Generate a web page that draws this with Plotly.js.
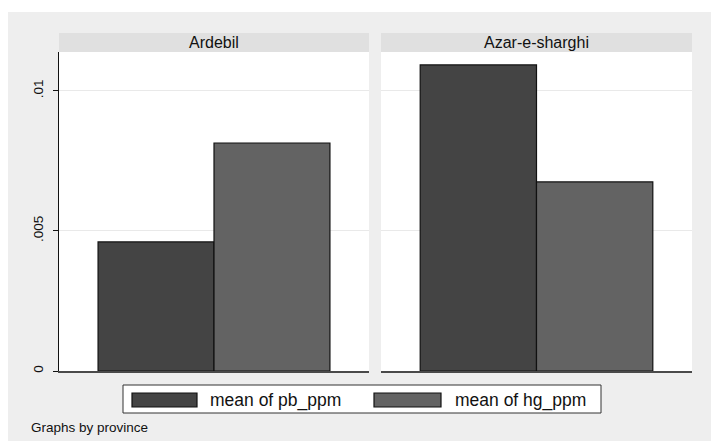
<!DOCTYPE html>
<html>
<head>
<meta charset="utf-8">
<script src="https://cdn.plot.ly/plotly-3.0.1.min.js"></script>
<style>html,body{margin:0;padding:0;background:#fff;}#chart{width:711px;height:441px;}</style>
</head>
<body>
<div id="chart"></div>
<script>
// ---- data ----
const provinces = ['Ardebil', 'Azar-e-sharghi'];
const seriesNames = ['mean of pb_ppm', 'mean of hg_ppm'];
const pbMean = [0.00461, 0.01093];
const hgMean = [0.00814, 0.00675];
const yTickVals = [0, 0.005, 0.01];
const yTickText = ['0', '.005', '.01'];
const footnote = 'Graphs by province';

// ---- style ----
const FONT = 'Liberation Sans, Arial, Helvetica, sans-serif';
const seriesValues = [pbMean, hgMean];
const seriesColors = ['#444444', '#636363'];
const W = 711, H = 441;
const M = {l: 59, r: 19, t: 52, b: 70};
const PW = W - M.l - M.r, PH = H - M.t - M.b;
const px = v => (v - M.l) / PW;          // pixel x -> paper x
const py = v => (H - M.b - v) / PH;      // pixel y -> paper y
const domains = [[0, px(369)], [px(381), 1]];

const traces = [];
provinces.forEach((prov, i) => {
  seriesNames.forEach((name, s) => {
    traces.push({
      type: 'bar',
      name: name,
      x: [prov],
      y: [seriesValues[s][i]],
      xaxis: i === 0 ? 'x' : 'x2',
      yaxis: 'y',
      offsetgroup: String(s),
      marker: {color: seriesColors[s], line: {color: '#111111', width: 1.2}},
      showlegend: false,
      hoverinfo: 'skip'
    });
  });
});

const shapes = [
  // outer grey graph region
  {type: 'rect', xref: 'paper', yref: 'paper', layer: 'below',
   x0: px(8), x1: px(711), y0: py(441), y1: py(12),
   fillcolor: '#eeeeee', line: {width: 0}},
];
domains.forEach(d => {
  shapes.push({type: 'rect', xref: 'paper', yref: 'paper', layer: 'below',
    x0: d[0], x1: d[1], y0: 0, y1: 1, fillcolor: '#ffffff', line: {width: 0}});
  shapes.push({type: 'rect', xref: 'paper', yref: 'paper', layer: 'below',
    x0: d[0], x1: d[1], y0: 1, y1: py(33), fillcolor: '#e0e0e0', line: {width: 0}});
});
// custom legend box and swatches
shapes.push({type: 'rect', xref: 'paper', yref: 'paper',
  x0: px(123), x1: px(601), y0: py(413), y1: py(385),
  fillcolor: '#ffffff', line: {color: '#333333', width: 1}});
const swatchX = [[132, 197], [374, 441]];
const textX = [208, 453];
seriesNames.forEach((n, s) => {
  shapes.push({type: 'rect', xref: 'paper', yref: 'paper',
    x0: px(swatchX[s][0]), x1: px(swatchX[s][1]), y0: py(407), y1: py(393),
    fillcolor: seriesColors[s], line: {color: '#111111', width: 1.2}});
});

const annotations = [];
provinces.forEach((prov, i) => {
  annotations.push({text: prov, xref: 'paper', yref: 'paper',
    x: (domains[i][0] + domains[i][1]) / 2, y: (1 + py(33)) / 2,
    xanchor: 'center', yanchor: 'middle', showarrow: false,
    font: {family: FONT, size: 16, color: '#111111'}});
});
seriesNames.forEach((n, s) => {
  annotations.push({text: n, xref: 'paper', yref: 'paper',
    x: px(textX[s]), y: py(400), xanchor: 'left', yanchor: 'middle',
    showarrow: false, font: {family: FONT, size: 17.5, color: '#111111'}});
});
annotations.push({text: footnote, xref: 'paper', yref: 'paper',
  x: px(29), y: py(427), xanchor: 'left', yanchor: 'middle', showarrow: false,
  font: {family: FONT, size: 13.5, color: '#111111'}});

const xCommon = {
  type: 'category', showticklabels: false, ticks: '', showgrid: false,
  zeroline: false, showline: true, linecolor: '#4a4a4a', linewidth: 1.5,
  anchor: 'y', fixedrange: true
};

const layout = {
  width: W, height: H,
  margin: {l: M.l, r: M.r, t: M.t, b: M.b, pad: 0},
  paper_bgcolor: '#ffffff',
  plot_bgcolor: 'rgba(0,0,0,0)',
  font: {family: FONT, color: '#111111'},
  barmode: 'group',
  bargap: 0.252,
  bargroupgap: 0,
  showlegend: false,
  xaxis: Object.assign({}, xCommon, {domain: domains[0]}),
  xaxis2: Object.assign({}, xCommon, {domain: domains[1]}),
  yaxis: {
    range: [0, 0.01139], tickvals: yTickVals, ticktext: yTickText,
    tickangle: -90, ticks: 'outside', ticklen: 5, tickcolor: '#111111',
    showline: true, linecolor: '#111111', linewidth: 1.2,
    showgrid: true, gridcolor: '#e9e9e9', gridwidth: 1, zeroline: false,
    tickfont: {family: FONT, size: 13.5, color: '#111111'},
    ticklabelstandoff: 4, fixedrange: true
  },
  shapes: shapes,
  annotations: annotations
};

Plotly.newPlot('chart', traces, layout, {displayModeBar: false, staticPlot: true});
</script>
</body>
</html>
